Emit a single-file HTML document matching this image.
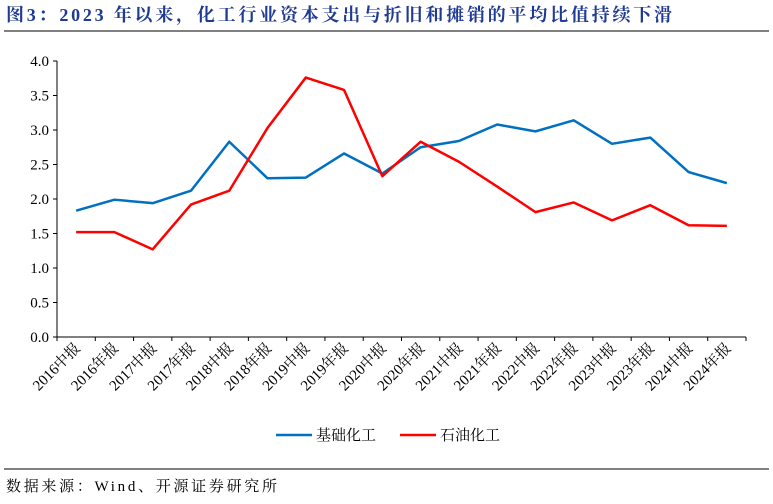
<!DOCTYPE html>
<html><head><meta charset="utf-8"><style>
body{margin:0;background:#fff;width:773px;height:499px;overflow:hidden;font-family:"Liberation Serif","Noto Serif CJK SC",serif;}
</style></head><body>
<svg width="773" height="499">
<text x="6" y="21" font-size="18" font-weight="bold" fill="#1f3a93" textLength="666" lengthAdjust="spacing" font-family="Liberation Serif, Noto Serif CJK SC, serif">图3：2023 年以来，化工行业资本支出与折旧和摊销的平均比值持续下滑</text>
<line x1="4" y1="31" x2="769" y2="31" stroke="#000" stroke-width="1"/>
<g id="axes"></g>
<g id="lines"></g>
<g>
<line x1="276" y1="435" x2="312" y2="435" stroke="#0070c0" stroke-width="2.5"/>
<text x="316" y="440" font-size="15">基础化工</text>
<line x1="400" y1="435" x2="436" y2="435" stroke="#ff0000" stroke-width="2.5"/>
<text x="440" y="440" font-size="15">石油化工</text>
</g>
<line x1="4" y1="469" x2="769" y2="469" stroke="#000" stroke-width="1"/>
<text x="6" y="491" font-size="15" textLength="271" lengthAdjust="spacing">数据来源：Wind、开源证券研究所</text>
</svg>
<script>
const categories=["2016中报","2016年报","2017中报","2017年报","2018中报","2018年报","2019中报","2019年报","2020中报","2020年报","2021中报","2021年报","2022中报","2022年报","2023中报","2023年报","2024中报","2024年报"];
const basicChem=[1.83,1.99,1.94,2.12,2.83,2.30,2.31,2.66,2.37,2.75,2.84,3.08,2.98,3.14,2.80,2.89,2.39,2.23];
const petroChem=[1.52,1.52,1.27,1.92,2.12,3.03,3.76,3.58,2.33,2.83,2.54,2.18,1.81,1.95,1.69,1.91,1.62,1.61];
const yTicks=[0,0.5,1,1.5,2,2.5,3,3.5,4];
const NS="http://www.w3.org/2000/svg";
const L=57,R=746,T=61,B=337,ymax=4;
const bw=(R-L)/categories.length;
const xs=i=>L+bw*(i+0.5);
const ys=v=>B-(v/ymax)*(B-T);
function mk(tag,attrs,parent){const e=document.createElementNS(NS,tag);for(const k in attrs)e.setAttribute(k,attrs[k]);parent.appendChild(e);return e;}
const ax=document.getElementById('axes');
let e=mk('line',{x1:L,y1:T,x2:L,y2:B,stroke:'#000'},ax);


e=mk('line',{x1:L,y1:B,x2:R,y2:B,stroke:'#000'},ax);


yTicks.forEach(v=>{
 const t=mk('line',{x1:L-4,y1:ys(v),x2:L,y2:ys(v),stroke:'#000'},ax);
 
 
 const tx=mk('text',{x:L-8,y:ys(v)+5,'font-size':15,'text-anchor':'end'},ax);
 tx.textContent=v.toFixed(1);
 
 
});
for(let i=0;i<=categories.length;i++){
 const t=mk('line',{x1:L+bw*i,y1:B,x2:L+bw*i,y2:B+4,stroke:'#000'},ax);
 
 
}
categories.forEach((c,i)=>{
 const x=xs(i)+5,y=B+12;
 const tx=mk('text',{x:x,y:y,'font-size':15,'text-anchor':'end',transform:`rotate(-45 ${x} ${y})`},ax);
 tx.textContent=c;
 
 
});
const lg=document.getElementById('lines');
function series(vals,color,name){
 const p=mk('polyline',{points:vals.map((v,i)=>xs(i)+','+ys(v)).join(' '),fill:'none',stroke:color,'stroke-width':2.5,'stroke-linejoin':'round'},lg);
 
 
}
series(basicChem,'#0070c0','line-basic-chemicals');
series(petroChem,'#ff0000','line-petrochemicals');
</script>
</body></html>
